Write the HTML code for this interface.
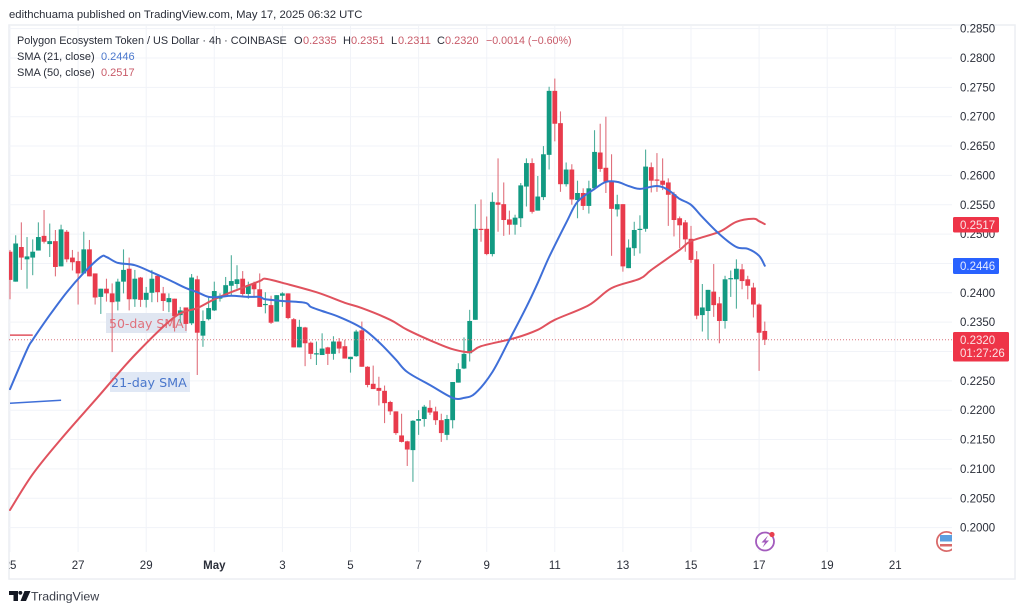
<!DOCTYPE html>
<html lang="en">
<head>
<meta charset="utf-8">
<title>Polygon Ecosystem Token / US Dollar 4h chart</title>
<style>
html,body{margin:0;padding:0;background:#fff;width:1024px;height:613px;overflow:hidden}
svg{display:block;filter:blur(.3px)}
text{font-family:"Liberation Sans",sans-serif;fill:#2a2e39}
</style>
</head>
<body>
<svg id="chart" xmlns="http://www.w3.org/2000/svg" width="1024" height="613" viewBox="0 0 1024 613">
  <defs><clipPath id="plot-clip"><rect x="9" y="26" width="943" height="526"/></clipPath>
  <clipPath id="axis-clip"><rect x="9" y="552" width="943" height="27"/></clipPath>
  <clipPath id="flag-clip"><rect x="930" y="525" width="22" height="30"/></clipPath></defs>
  <rect x="9" y="25" width="1006" height="554" fill="#fff" stroke="#eceef2" stroke-width="1.5"/>
  <g id="grid"></g>
  <g>
    <rect x="106" y="313" width="81" height="20" fill="#e0e6f1"/>
    <text x="109" y="328" style="font-family:'DejaVu Sans',sans-serif;font-size:12.5px;fill:#e0717c">50-day SMA</text>
  </g>
  <g>
    <rect x="110" y="372" width="80" height="20" fill="#e0e8f5"/>
    <text x="111" y="387" style="font-family:'DejaVu Sans',sans-serif;font-size:12.7px;fill:#4a77cc">21-day SMA</text>
  </g>
  <g id="candles" clip-path="url(#plot-clip)"></g>
  <g id="lines" clip-path="url(#plot-clip)"></g>
  <g id="priceaxis"></g>
  <g id="timeaxis" clip-path="url(#axis-clip)"></g>

  <text x="9" y="18" style="font-size:11.3px">edithchuama published on TradingView.com, May 17, 2025 06:32 UTC</text>

  <g style="font-size:11px">
    <text x="17" y="44" style="font-size:10.85px">Polygon Ecosystem Token / US Dollar · 4h · COINBASE</text>
    <text x="294" y="44">O</text>
    <text x="303" y="44" style="fill:#c85a68">0.2335</text>
    <text x="343" y="44">H</text>
    <text x="351" y="44" style="fill:#c85a68">0.2351</text>
    <text x="391" y="44">L</text>
    <text x="398" y="44" style="fill:#c85a68">0.2311</text>
    <text x="437" y="44">C</text>
    <text x="445" y="44" style="fill:#c85a68">0.2320</text>
    <text x="486" y="44" style="fill:#c85a68;font-size:10.7px">−0.0014 (−0.60%)</text>
    <text x="17" y="60">SMA (21, close)</text>
    <text x="101" y="60" style="fill:#4a77cc">0.2446</text>
    <text x="17" y="76">SMA (50, close)</text>
    <text x="101" y="76" style="fill:#c85a68">0.2517</text>
  </g>

  <g>
    <rect x="953" y="217" width="46" height="15.5" rx="1.5" fill="#ee3448"/>
    <text x="960" y="229" style="font-size:11.5px;fill:#fbe3e5">0.2517</text>
  </g>
  <g>
    <rect x="953" y="258" width="46" height="16" rx="1.5" fill="#2962ff"/>
    <text x="960" y="270" style="font-size:11.5px;fill:#e3eaff">0.2446</text>
  </g>
  <g>
    <rect x="953" y="332" width="56" height="29.5" rx="1.5" fill="#ee3448"/>
    <text x="960" y="344" style="font-size:11.5px;fill:#fbe3e5">0.2320</text>
    <text x="960" y="357" style="font-size:11.5px;fill:#fbe3e5">01:27:26</text>
  </g>

  <g>
    <circle cx="765" cy="541.5" r="9" fill="#fff" stroke="#a35bbd" stroke-width="1.8"/>
    <path d="M768 535.5 L761.5 542.5 L765 542.5 L762.5 547.5 L769 540.5 L765.5 540.5 Z" fill="#a35bbd"/>
    <circle cx="772" cy="534.5" r="2.6" fill="#e8404f"/>
  </g>
  <g clip-path="url(#flag-clip)">
    <circle cx="946.5" cy="541.5" r="9.6" fill="#fff" stroke="#d96a6a" stroke-width="1.8"/>
    <rect x="940" y="535" width="12" height="6.5" fill="#5b9fe0"/>
    <rect x="940" y="544" width="12" height="2.5" fill="#d96a6a"/>
  </g>

  <g>
    <path d="M9 591 H18 V601 H13.5 V595 H9 Z M19.5 591 H21.2 A2 2 0 1 1 19.5 591 Z M24.5 591 H30.5 L26 601 H20.5 Z" fill="#131722"/>
    <text x="31" y="600.5" style="font-size:12.4px;fill:#3a3e49">TradingView</text>
  </g>
</svg>
<script>
// Price data (4h bars, first bar = Apr 25 00:00 UTC)
const opens = [
.2470,.2419,.2478,.2457,.2460,.2472,.2497,.2483,.2488,.2445,
.2504,.2460,.2454,.2433,.2474,.2433,.2393,.2407,.2399,.2385,
.2419,.2441,.2389,.2426,.2388,.2400,.2429,.2399,.2384,.2390,
.2362,.2375,.2348,.2423,.2327,.2355,.2370,.2390,.2396,.2412,
.2415,.2424,.2398,.2416,.2406,.2379,.2379,.2351,.2395,.2399,
.2355,.2307,.2341,.2315,.2295,.2294,.2307,.2296,.2317,.2309,
.2287,.2292,.2336,.2274,.2245,.2238,.2233,.2214,.2198,.2157,
.2147,.2132,.2182,.2185,.2204,.2198,.2183,.2158,.2183,.2247,
.2271,.2297,.2354,.2509,.2509,.2466,.2554,.2551,.2525,.2516,
.2527,.2581,.2621,.2540,.2563,.2635,.2744,.2689,.2585,.2610,
.2558,.2570,.2548,.2578,.2639,.2613,.2589,.2542,.2551,.2442,
.2476,.2507,.2509,.2614,.2593,.2591,.2588,.2568,.2527,.2520,
.2492,.2457,.2362,.2369,.2402,.2382,.2352,.2424,.2423,.2440,
.2423,.2409,.2380,.2335];
const highs = [
.2473,.2498,.2520,.2495,.2491,.2520,.2541,.2518,.2507,.2516,
.2507,.2473,.2470,.2504,.2490,.2433,.2407,.2424,.2416,.2424,
.2474,.2460,.2439,.2427,.2410,.2439,.2430,.2410,.2399,.2390,
.2376,.2375,.2432,.2429,.2370,.2393,.2419,.2399,.2427,.2464,
.2447,.2437,.2419,.2419,.2433,.2401,.2395,.2396,.2401,.2399,
.2357,.2354,.2342,.2317,.2317,.2331,.2308,.2326,.2323,.2320,
.2291,.2337,.2351,.2275,.2276,.2257,.2242,.2216,.2198,.2194,
.2148,.2183,.2200,.2209,.2217,.2206,.2194,.2192,.2248,.2280,
.2324,.2371,.2551,.2559,.2530,.2571,.2629,.2588,.2540,.2533,
.2587,.2629,.2629,.2599,.2650,.2751,.2765,.2709,.2622,.2619,
.2591,.2578,.2591,.2677,.2688,.2700,.2636,.2567,.2551,.2491,
.2521,.2532,.2644,.2622,.2638,.2629,.2595,.2572,.2530,.2524,
.2514,.2471,.2415,.2405,.2449,.2393,.2429,.2438,.2457,.2449,
.2429,.2417,.2382,.2351];
const lows = [
.2389,.2419,.2439,.2407,.2430,.2472,.2484,.2461,.2428,.2445,
.2452,.2438,.2380,.2433,.2428,.2380,.2364,.2385,.2299,.2370,
.2399,.2370,.2376,.2376,.2375,.2384,.2384,.2369,.2367,.2334,
.2348,.2335,.2345,.2260,.2308,.2353,.2369,.2385,.2393,.2396,
.2407,.2393,.2390,.2393,.2376,.2365,.2347,.2351,.2376,.2355,
.2307,.2307,.2275,.2287,.2277,.2294,.2277,.2286,.2297,.2288,
.2264,.2291,.2274,.2239,.2236,.2208,.2178,.2192,.2158,.2145,
.2105,.2078,.2158,.2172,.2192,.2175,.2146,.2149,.2169,.2247,
.2270,.2283,.2354,.2487,.2464,.2462,.2504,.2497,.2499,.2499,
.2512,.2547,.2535,.2540,.2558,.2610,.2658,.2572,.2581,.2550,
.2527,.2541,.2535,.2575,.2606,.2570,.2463,.2530,.2436,.2442,
.2463,.2467,.2504,.2571,.2572,.2575,.2514,.2496,.2476,.2470,
.2451,.2355,.2334,.2320,.2359,.2314,.2339,.2393,.2373,.2406,
.2389,.2358,.2267,.2311];
const closes = [
.2422,.2484,.2460,.2462,.2470,.2495,.2487,.2488,.2444,.2508,
.2457,.2452,.2433,.2474,.2428,.2392,.2407,.2399,.2384,.2419,
.2439,.2389,.2424,.2388,.2400,.2424,.2401,.2386,.2391,.2360,
.2370,.2347,.2426,.2332,.2352,.2374,.2403,.2395,.2413,.2420,
.2423,.2398,.2413,.2406,.2376,.2381,.2349,.2396,.2399,.2357,
.2307,.2342,.2314,.2296,.2297,.2305,.2296,.2317,.2305,.2288,
.2291,.2334,.2274,.2243,.2236,.2233,.2212,.2198,.2161,.2146,
.2133,.2182,.2185,.2206,.2196,.2183,.2161,.2185,.2248,.2270,
.2296,.2352,.2509,.2507,.2466,.2555,.2550,.2524,.2516,.2528,
.2583,.2621,.2538,.2564,.2636,.2744,.2688,.2585,.2610,.2559,
.2570,.2548,.2578,.2640,.2611,.2589,.2543,.2551,.2445,.2477,
.2507,.2509,.2615,.2591,.2592,.2584,.2567,.2524,.2515,.2491,
.2456,.2361,.2375,.2405,.2379,.2352,.2423,.2425,.2441,.2420,
.2412,.2380,.2332,.2320];

// Moving averages: bar indices and the value read at each
const sma21Bars = [0,3,4,7,10,13,16,17,19,22,25,28,31,33,35,37,39,42,44,45,48,52,53,55,58,62,65,68,70,74,78,80,82,85,88,91,93,95,98,100,103,105,107,109,111,114,116,118,120,122,125,128,130,132,133];
const sma21Values = [.2236,.2303,.2320,.2362,.2401,.2434,.2461,.2461,.2451,.2447,.2435,.2422,.2408,.2401,.2393,.2393,.2395,.2393,.2393,.2389,.2386,.2383,.2376,.2369,.2359,.2340,.2316,.2286,.2265,.2243,.2221,.2221,.2229,.2265,.2320,.2376,.2417,.2461,.2519,.2555,.2577,.2589,.2589,.2582,.2577,.2582,.2575,.2560,.2550,.2529,.2500,.2478,.2475,.2463,.2446];
const sma50Bars = [0,4,9,15,22,29,33,36,40,44,45,48,54,59,62,67,70,75,78,81,83,89,93,96,102,106,111,113,118,120,125,128,131,132,133];
const sma50Values = [.2030,.2091,.2151,.2217,.2294,.2359,.2374,.2389,.2405,.2420,.2424,.2417,.2401,.2383,.2374,.2354,.2337,.2315,.2304,.2299,.2309,.2323,.2337,.2354,.2379,.2408,.2424,.2439,.2473,.2488,.2504,.2521,.2526,.2522,.2517];
// Short earlier plot fragments on the left edge
const stubRedBars = [0,4];
const stubRedValues = [.2328,.2328];
const stubBlueBars = [0,9];
const stubBlueValues = [.2212,.2217];

const lastPrice = .2320;
const priceTicks = [.2850,.2800,.2750,.2700,.2650,.2600,.2550,.2500,.2450,.2400,.2350,.2300,.2250,.2200,.2150,.2100,.2050,.2000];
const priceTickLabels = ["0.2850","0.2800","0.2750","0.2700","0.2650","0.2600","0.2550","0.2500","","0.2400","0.2350","","0.2250","0.2200","0.2150","0.2100","0.2050","0.2000"];
const dateBars = [0,12,24,36,48,60,72,84,96,108,120,132,144,156];
const dateLabels = ["25","27","29","May","3","5","7","9","11","13","15","17","19","21"];

// Axis functions
function xOf(bar){ return 10 + 5.675 * bar; }
function yOf(price){ return 58 + (0.28 - price) * 5870; }

const NS = "http://www.w3.org/2000/svg";
function make(tag, parent, attrs){
  const el = document.createElementNS(NS, tag);
  for (const k in attrs) el.setAttribute(k, attrs[k]);
  parent.appendChild(el);
  return el;
}

const grid = document.getElementById("grid");
priceTicks.forEach(function(p){
  const gl = make("line", grid, {x1:9, x2:952, y1:yOf(p), y2:yOf(p), stroke:"#f1f3f8", "stroke-width":1});
  
  
});
dateBars.forEach(function(b){
  const gl = make("line", grid, {x1:xOf(b), x2:xOf(b), y1:26, y2:552, stroke:"#f1f3f8", "stroke-width":1});
  
  
});

const candlesG = document.getElementById("candles");
const UP = "#129a82", DOWN = "#e83b4c", UPW = "#4fae9b", DOWNW = "#e0707c";
closes.forEach(function(c, i){
  const o = opens[i], up = c >= o, x = xOf(i);
  const wick = make("line", candlesG, {x1:x, x2:x, y1:yOf(highs[i]), y2:yOf(lows[i]), stroke:up?UPW:DOWNW, "stroke-width":1.1});
  
  
  const top = yOf(Math.max(o, c)), h = Math.max(1.2, Math.abs(yOf(o) - yOf(c)));
  const body = make("rect", candlesG, {x:x - 2.4, y:top, width:4.8, height:h, fill:up?UP:DOWN});
  
  
});

const linesG = document.getElementById("lines");
// Smooth curve through the read points (Catmull-Rom to cubic Bezier)
function pathOf(bars, values){
  const pts = bars.map(function(b, i){ return [xOf(b), yOf(values[i])]; });
  let d = "M" + pts[0][0].toFixed(1) + " " + pts[0][1].toFixed(1);
  for (let i = 0; i < pts.length - 1; i++){
    const p0 = pts[Math.max(0, i - 1)], p1 = pts[i], p2 = pts[i + 1], p3 = pts[Math.min(pts.length - 1, i + 2)];
    const c1x = p1[0] + (p2[0] - p0[0]) / 6, c1y = p1[1] + (p2[1] - p0[1]) / 6;
    const c2x = p2[0] - (p3[0] - p1[0]) / 6, c2y = p2[1] - (p3[1] - p1[1]) / 6;
    d += " C" + c1x.toFixed(1) + " " + c1y.toFixed(1) + " " + c2x.toFixed(1) + " " + c2y.toFixed(1) + " " + p2[0].toFixed(1) + " " + p2[1].toFixed(1);
  }
  return d;
}
const dotted = make("line", linesG, {x1:9, x2:952, y1:yOf(lastPrice), y2:yOf(lastPrice), stroke:"#d9737d", "stroke-width":1, "stroke-dasharray":"1 2"});


const lineRed = make("path", linesG, {d:pathOf(sma50Bars, sma50Values), fill:"none", stroke:"#e0525e", "stroke-width":2, "stroke-linejoin":"round", "stroke-linecap":"round"});


const lineBlue = make("path", linesG, {d:pathOf(sma21Bars, sma21Values), fill:"none", stroke:"#3f6fd8", "stroke-width":2, "stroke-linejoin":"round", "stroke-linecap":"round"});


const stubRed = make("path", linesG, {d:pathOf(stubRedBars, stubRedValues), fill:"none", stroke:"#e0525e", "stroke-width":1.5});


const stubBlue = make("path", linesG, {d:pathOf(stubBlueBars, stubBlueValues), fill:"none", stroke:"#3f6fd8", "stroke-width":1.5});



const priceG = document.getElementById("priceaxis");
priceTicks.forEach(function(p, i){
  if (!priceTickLabels[i]) return;
  const t = make("text", priceG, {x:960, y:yOf(p) + 4, style:"font-size:11.5px"});
  t.textContent = priceTickLabels[i];
  
  
});

const timeG = document.getElementById("timeaxis");
dateLabels.forEach(function(lbl, i){
  const t = make("text", timeG, {x:xOf(dateBars[i]), y:569, "text-anchor":"middle", style:"font-size:11.5px;" + (lbl === "May" ? "font-weight:bold" : "")});
  t.textContent = lbl;
  
  
});
</script>
</body>
</html>
